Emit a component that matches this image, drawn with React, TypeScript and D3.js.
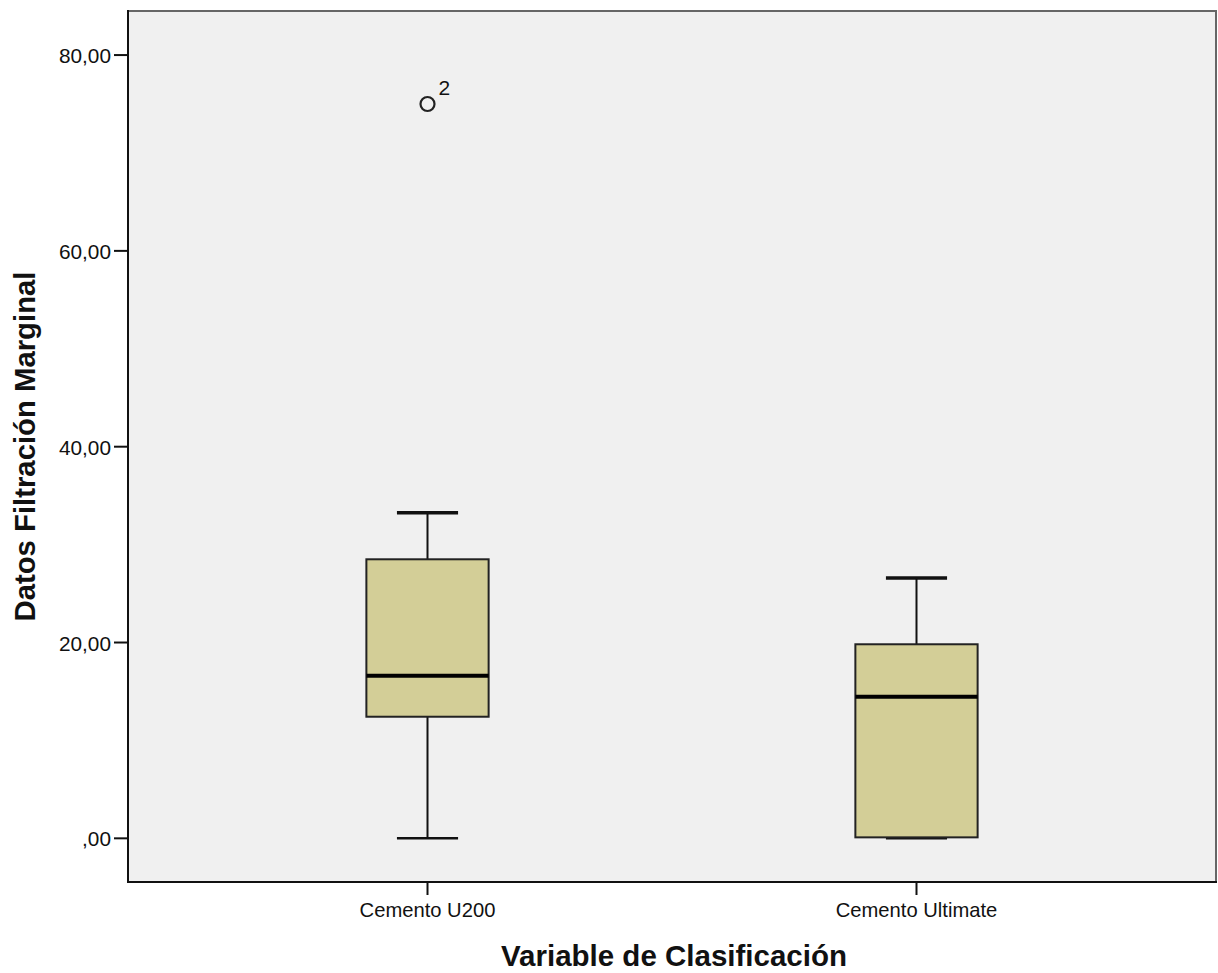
import React from "react";
import * as d3 from "d3";

const categories = ["Cemento U200", "Cemento Ultimate"];
const whiskerLow = [0, 0];
const q1 = [12.42, 0.1];
const median = [16.6, 14.46];
const q3 = [28.5, 19.82];
const whiskerHigh = [33.26, 26.6];
const outlierCategory = ["Cemento U200"];
const outlierValue = [75.0];
const outlierLabel = ["2"];
const yTickValues = [0, 20, 40, 60, 80];
const yTickLabels = [",00", "20,00", "40,00", "60,00", "80,00"];

const W = 1218;
const H = 973;
const left = 128;
const right = 1216;
const top = 11;
const bottom = 882;
const FONT = "'Liberation Sans', Arial, Helvetica, sans-serif";

export default function App() {
  const x = d3.scalePoint<string>().domain(categories).range([left, right]).padding(0.6125);
  const y = d3.scaleLinear().domain([-4.46, 84.5]).range([bottom, top]);
  const step = x.step();
  const boxW = step * 0.25;
  const capW = boxW / 2;

  return (
    <svg width={W} height={H} style={{ position: "absolute", left: 0, top: 0, background: "#fff" }}>
      <rect x={left} y={top} width={right - left} height={bottom - top} fill="#F0F0F0" stroke="#666" strokeWidth={2} />
      {/* axes */}
      <line x1={left} y1={top - 1} x2={left} y2={bottom + 1} stroke="#111" strokeWidth={2} />
      <line x1={left - 1} y1={bottom} x2={right + 1} y2={bottom} stroke="#111" strokeWidth={2} />
      {yTickValues.map((v, i) => (
        <g key={"yt" + i}>
          <line x1={left - 14} x2={left} y1={y(v)} y2={y(v)} stroke="#111" strokeWidth={2} />
          <text x={left - 17} y={y(v) + 8} textAnchor="end" fontFamily={FONT} fontSize={20.8} fill="#111">
            {yTickLabels[i]}
          </text>
        </g>
      ))}
      {categories.map((c) => (
        <g key={"xt" + c}>
          <line x1={x(c)} x2={x(c)} y1={bottom} y2={bottom + 13} stroke="#111" strokeWidth={2} />
          <text x={x(c)} y={917} textAnchor="middle" fontFamily={FONT} fontSize={20.2} fill="#111">
            {c}
          </text>
        </g>
      ))}
      {/* boxes */}
      {categories.map((c, i) => {
        const cx = x(c) as number;
        return (
          <g key={"box" + c}>
            <line x1={cx} x2={cx} y1={y(whiskerHigh[i])} y2={y(q3[i])} stroke="#111" strokeWidth={2} />
            <line x1={cx} x2={cx} y1={y(q1[i])} y2={y(whiskerLow[i])} stroke="#111" strokeWidth={2} />
            <line x1={cx - capW / 2} x2={cx + capW / 2} y1={y(whiskerHigh[i])} y2={y(whiskerHigh[i])} stroke="#111" strokeWidth={3.5} />
            <line x1={cx - capW / 2} x2={cx + capW / 2} y1={y(whiskerLow[i])} y2={y(whiskerLow[i])} stroke="#111" strokeWidth={2.5} />
            <rect
              x={cx - boxW / 2}
              y={y(q3[i])}
              width={boxW}
              height={y(q1[i]) - y(q3[i])}
              fill="#D3CE97"
              stroke="#222"
              strokeWidth={2}
            />
            <line x1={cx - boxW / 2} x2={cx + boxW / 2} y1={y(median[i])} y2={y(median[i])} stroke="#000" strokeWidth={4} />
          </g>
        );
      })}
      {outlierCategory.map((c, i) => {
        const cx = x(c) as number;
        const cy = y(outlierValue[i]);
        return (
          <g key={"out" + i}>
            <circle cx={cx} cy={cy} r={7} fill="none" stroke="#222" strokeWidth={2.2} />
            <text x={cx + 11} y={cy - 9} fontFamily={FONT} fontSize={21} fill="#111">
              {outlierLabel[i]}
            </text>
          </g>
        );
      })}
      {/* titles */}
      <text x={(left + right) / 2 + 2} y={966} textAnchor="middle" fontFamily={FONT} fontWeight="bold" fontSize={29.5} fill="#111">
        Variable de Clasificación
      </text>
      <text
        transform={`translate(35, ${(top + bottom) / 2}) rotate(-90)`}
        textAnchor="middle"
        fontFamily={FONT}
        fontWeight="bold"
        fontSize={29.3}
        fill="#111"
      >
        Datos Filtración Marginal
      </text>
    </svg>
  );
}
